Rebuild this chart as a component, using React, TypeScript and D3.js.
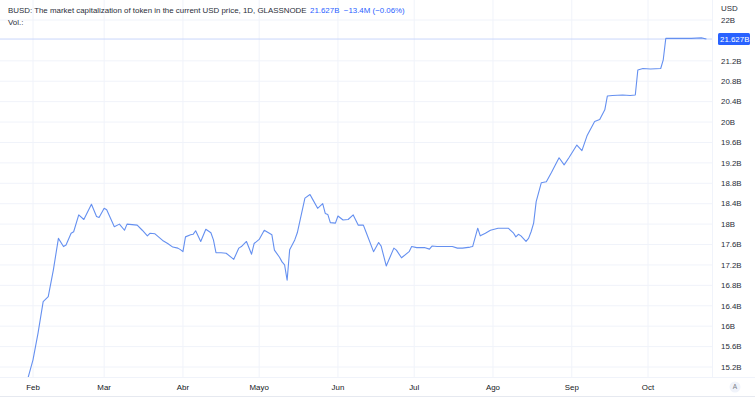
import React from "react";
import * as d3 from "d3";

const dates = [
  "2022-01-30","2022-02-01","2022-02-03","2022-02-05","2022-02-07","2022-02-09","2022-02-11","2022-02-13","2022-02-14","2022-02-16",
  "2022-02-17","2022-02-19","2022-02-21","2022-02-24","2022-02-26","2022-02-27","2022-03-01","2022-03-02","2022-03-05","2022-03-07",
  "2022-03-09","2022-03-10","2022-03-14","2022-03-16","2022-03-18","2022-03-19","2022-03-21","2022-03-24","2022-03-26","2022-03-28",
  "2022-03-30","2022-03-31","2022-04-01","2022-04-02","2022-04-04","2022-04-05","2022-04-06","2022-04-08","2022-04-10","2022-04-12",
  "2022-04-13","2022-04-14","2022-04-16","2022-04-18","2022-04-21","2022-04-23","2022-04-24","2022-04-26","2022-04-28","2022-04-29",
  "2022-05-01","2022-05-03","2022-05-05","2022-05-06","2022-05-07","2022-05-09","2022-05-10","2022-05-11","2022-05-12","2022-05-13",
  "2022-05-15","2022-05-16","2022-05-19","2022-05-21","2022-05-22","2022-05-24","2022-05-26","2022-05-27","2022-05-28","2022-05-29",
  "2022-05-31","2022-06-01","2022-06-03","2022-06-05","2022-06-07","2022-06-09","2022-06-11","2022-06-12","2022-06-15","2022-06-17",
  "2022-06-18","2022-06-20","2022-06-23","2022-06-24","2022-06-26","2022-06-29","2022-06-30","2022-07-02","2022-07-05","2022-07-07",
  "2022-07-08","2022-07-10","2022-07-13","2022-07-16","2022-07-18","2022-07-20","2022-07-23","2022-07-24","2022-07-26","2022-07-27",
  "2022-07-29","2022-07-31","2022-08-03","2022-08-05","2022-08-07","2022-08-09","2022-08-10","2022-08-11","2022-08-12","2022-08-14",
  "2022-08-15","2022-08-16","2022-08-17","2022-08-18","2022-08-20","2022-08-22","2022-08-24","2022-08-27","2022-08-29","2022-08-31",
  "2022-09-03","2022-09-05","2022-09-07","2022-09-10","2022-09-12","2022-09-14","2022-09-15","2022-09-17","2022-09-21","2022-09-24",
  "2022-09-26","2022-09-27","2022-09-29","2022-10-02","2022-10-06","2022-10-07","2022-10-08","2022-10-12","2022-10-18","2022-10-22",
  "2022-10-24"
];

// market cap, billions USD
const marketCap = [
  14.98,15.34,15.87,16.48,16.58,17.10,17.72,17.56,17.59,17.82,
  17.85,18.18,18.09,18.39,18.15,18.13,18.31,18.28,17.95,18.00,
  17.88,18.00,17.98,17.88,17.77,17.82,17.81,17.68,17.62,17.55,
  17.53,17.50,17.46,17.75,17.79,17.80,17.87,17.66,17.90,17.83,
  17.69,17.44,17.44,17.43,17.31,17.53,17.56,17.66,17.41,17.62,
  17.70,17.88,17.82,17.79,17.49,17.35,17.26,17.20,16.90,17.50,
  17.69,17.83,18.51,18.58,18.49,18.31,18.40,18.21,18.19,18.03,
  18.02,18.16,18.08,18.09,18.18,17.98,17.98,17.85,17.46,17.64,
  17.57,17.18,17.53,17.49,17.34,17.46,17.56,17.54,17.54,17.51,
  17.57,17.56,17.56,17.56,17.53,17.53,17.55,17.56,17.92,17.77,
  17.82,17.88,17.92,17.92,17.92,17.83,17.75,17.80,17.77,17.66,
  17.72,17.85,18.02,18.44,18.81,18.83,19.01,19.30,19.16,19.31,
  19.55,19.44,19.73,20.01,20.05,20.24,20.51,20.52,20.53,20.52,
  20.53,21.02,21.05,21.04,21.05,21.22,21.64,21.64,21.64,21.65,
  21.627
];

const priceTicks = [15.2,15.6,16,16.4,16.8,17.2,17.6,18,18.4,18.8,19.2,19.6,20,20.4,20.8,21.2,22];
const monthTicks = ["2022-02-01","2022-03-01","2022-04-01","2022-05-01","2022-06-01","2022-07-01","2022-08-01","2022-09-01","2022-10-01"];
const monthLabels = ["Feb","Mar","Abr","Mayo","Jun","Jul","Ago","Sep","Oct"];
const lastValueLabel = "21.627B";
const titleText = "BUSD: The market capitalization of token in the current USD price, 1D, GLASSNODE";
const changeText = "21.627B  \u221213.4M (\u22120.06%)";

const W = 755, H = 399;
const plotRight = 712;
const plotBottom = 377;
const FONT = "'Liberation Sans', Arial, sans-serif";
const FS = 7.9;

export default function App() {
  const parse = d3.timeParse("%Y-%m-%d");
  const x = d3.scaleTime()
    .domain([parse("2022-02-01")!, parse("2022-10-01")!])
    .range([33, 648]);
  const y = d3.scaleLinear().domain([15.2, 22]).range([367, 20]);

  const pts = dates.map((d, i) => ({ t: parse(d)!, v: marketCap[i] }));
  const line = d3.line<{ t: Date; v: number }>().x(d => x(d.t)).y(d => y(d.v));
  const last = marketCap[marketCap.length - 1];
  const ly = y(last);

  return (
    <svg width={W} height={H} style={{ position: "absolute", left: 0, top: 0, background: "#fff" }} fontFamily={FONT}>
      <defs>
        <clipPath id="plot"><rect x={0} y={0} width={plotRight} height={plotBottom} /></clipPath>
      </defs>
      <rect x={0} y={0} width={W} height={H} fill="#fff" />
      {priceTicks.map(t => (
        <line key={"h" + t} x1={0} x2={plotRight} y1={y(t)} y2={y(t)} stroke="#f0f3fa" strokeWidth={1} />
      ))}
      {monthTicks.map(m => (
        <line key={"v" + m} x1={x(parse(m)!)} x2={x(parse(m)!)} y1={0} y2={plotBottom} stroke="#f0f3fa" strokeWidth={1} />
      ))}
      <line x1={0} x2={plotRight} y1={ly} y2={ly} stroke="#c9d6fb" strokeWidth={1} />
      <path d={line(pts)!} fill="none" stroke="#6590f0" strokeWidth={1.1} strokeLinejoin="round" clipPath="url(#plot)" />
      <line x1={plotRight + 0.5} x2={plotRight + 0.5} y1={0} y2={plotBottom} stroke="#f0f3fa" />
      <line x1={0} x2={W} y1={plotBottom + 0.5} y2={plotBottom + 0.5} stroke="#f0f3fa" />
      <line x1={0} x2={W} y1={H - 2.5} y2={H - 2.5} stroke="#e6e9f0" />

      <text x={8} y={13} fontSize={FS} fill="#2a2e39">{titleText}</text>
      <text x={310} y={13} fontSize={FS} fill="#2962ff" style={{ whiteSpace: "pre" }}>{changeText}</text>
      <text x={8} y={25} fontSize={FS} fill="#2a2e39">Vol.:</text>

      <text x={721} y={11} fontSize={FS} fill="#2a2e39">USD</text>
      {priceTicks.map(t => (
        Math.abs(y(t) - ly) > 10 ? (
          <text key={"l" + t} x={721} y={y(t)} dy="0.35em" fontSize={FS} fill="#2a2e39">{d3.format("~g")(t) + "B"}</text>
        ) : null
      ))}
      <rect x={718} y={ly - 6} width={32} height={12} rx={1.5} fill="#2962ff" />
      <text x={720} y={ly} dy="0.35em" fontSize={FS} fill="#fff">{lastValueLabel}</text>

      {monthTicks.map((m, i) => (
        <text key={"m" + m} x={x(parse(m)!)} y={387} dy="0.35em" textAnchor="middle" fontSize={FS} fill="#131722">{monthLabels[i]}</text>
      ))}
      <circle cx={735} cy={387} r={5.5} fill="#f0f3fa" />
      <text x={735} y={387} dy="0.35em" textAnchor="middle" fontSize={6.5} fill="#787b86">A</text>
    </svg>
  );
}
